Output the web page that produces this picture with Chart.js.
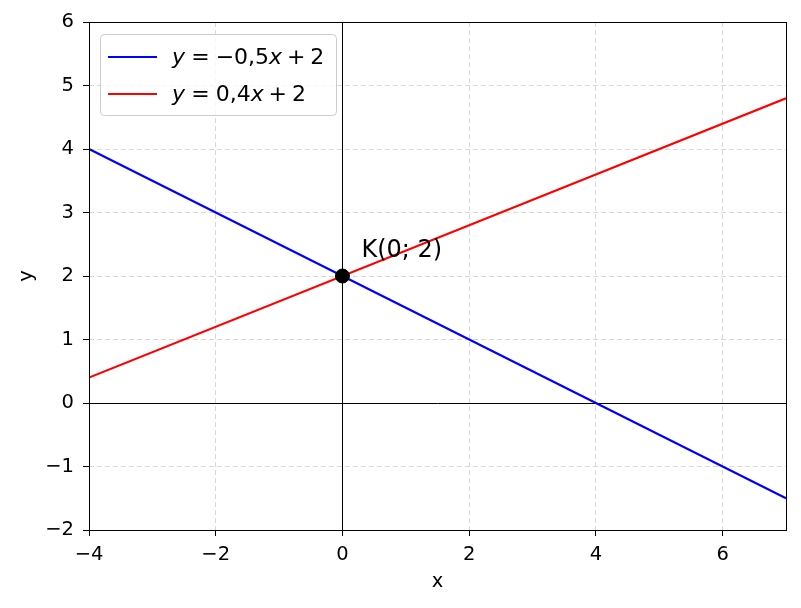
<!DOCTYPE html>
<html>
<head>
<meta charset="utf-8">
<script src="https://cdn.jsdelivr.net/npm/chart.js@4.4.0/dist/chart.umd.min.js"></script>
<style>
  html, body { margin: 0; padding: 0; background: #fff; }
  #wrap { width: 801px; height: 608px; }
</style>
</head>
<body>
<div id="wrap"><canvas id="chart" width="801" height="608"></canvas></div>
<script>
// data
const xEnds = [-4, 7];
const blueY = [4, -1.5];
const redY = [0.4, 4.8];
const pointX = [0];
const pointY = [2];
const pointLabel = 'K(0; 2)';
const labelAt = [0.3, 2.3];
const xTicks = [-4, -2, 0, 2, 4, 6];
const yTicks = [-2, -1, 0, 1, 2, 3, 4, 5, 6];
// legend text: [text, italic, space after (em)]
const legendParts = [
  [['y', true, 0.278], ['=', false, 0.278], ['\u22120,5', false, 0], ['x', true, 0.222], ['+', false, 0.222], ['2', false, 0]],
  [['y', true, 0.278], ['=', false, 0.278], ['0,4', false, 0], ['x', true, 0.222], ['+', false, 0.222], ['2', false, 0]]
];
const legendColors = ['#0000ff', '#ff0000'];

const FONT = 'DejaVu Sans';
const TICK_SIZE = 19.5;
const LEGEND_SIZE = 22;

function fmt(v) {
  return v < 0 ? '\u2212' + Math.abs(v) : String(v);
}

// axes at zero, frame, legend and label
const extras = {
  id: 'extras',
  beforeDatasetsDraw(chart) {
    const ctx = chart.ctx, a = chart.chartArea;
    const xs = chart.scales.x, ys = chart.scales.y;
    const x0 = Math.round(xs.getPixelForValue(0)) + 0.5;
    const y0 = Math.round(ys.getPixelForValue(0)) + 0.5;
    ctx.save();
    ctx.strokeStyle = '#000';
    ctx.lineWidth = 1;
    ctx.beginPath();
    ctx.moveTo(x0, a.top); ctx.lineTo(x0, a.bottom);
    ctx.moveTo(a.left, y0); ctx.lineTo(a.right, y0);
    ctx.stroke();
    ctx.restore();
  },
  afterDraw(chart) {
    const ctx = chart.ctx, a = chart.chartArea;
    const xs = chart.scales.x, ys = chart.scales.y;
    ctx.save();
    // frame
    ctx.strokeStyle = '#000';
    ctx.lineWidth = 1;
    ctx.strokeRect(Math.round(a.left) + 0.5, Math.round(a.top) + 0.5,
      Math.round(a.right - a.left), Math.round(a.bottom - a.top));

    // point label
    ctx.fillStyle = '#000';
    ctx.font = '24px "' + FONT + '"';
    ctx.textBaseline = 'alphabetic';
    ctx.textAlign = 'left';
    ctx.fillText(pointLabel, xs.getPixelForValue(labelAt[0]), ys.getPixelForValue(labelAt[1]));

    // legend
    const bx = a.left + 11, by = a.top + 12, bw = 236, bh = 81, r = 4;
    ctx.beginPath();
    ctx.roundRect(bx + 0.5, by + 0.5, bw, bh, r);
    ctx.fillStyle = 'rgba(255,255,255,0.8)';
    ctx.fill();
    ctx.strokeStyle = '#cccccc';
    ctx.lineWidth = 1;
    ctx.stroke();
    legendParts.forEach((parts, i) => {
      const cy = by + 23 + i * 37;
      ctx.strokeStyle = legendColors[i];
      ctx.lineWidth = 2.2;
      ctx.beginPath();
      ctx.moveTo(bx + 8, cy); ctx.lineTo(bx + 57, cy);
      ctx.stroke();
      let tx = bx + 72;
      ctx.fillStyle = '#000';
      ctx.textBaseline = 'middle';
      parts.forEach(([t, it, sp]) => {
        ctx.font = (it ? 'italic ' : '') + LEGEND_SIZE + 'px "' + FONT + '"';
        ctx.fillText(t, tx, cy + 1);
        tx += ctx.measureText(t).width + sp * LEGEND_SIZE;
      });
    });
    ctx.restore();
  }
};

const gridOpts = {
  color: '#d8d8d8',
  lineWidth: 1,
  drawTicks: true,
  tickLength: 6,
  tickColor: '#000',
  tickWidth: 1,
  tickBorderDash: []
};

new Chart(document.getElementById('chart'), {
  type: 'scatter',
  data: {
    datasets: [
      {
        data: xEnds.map((x, i) => ({x: x, y: blueY[i]})),
        showLine: true,
        borderColor: '#0000ff',
        borderWidth: 2.2,
        pointRadius: 0,
        order: 2
      },
      {
        data: xEnds.map((x, i) => ({x: x, y: redY[i]})),
        showLine: true,
        borderColor: '#ff0000',
        borderWidth: 2.2,
        pointRadius: 0,
        order: 1
      },
      {
        data: pointX.map((x, i) => ({x: x, y: pointY[i]})),
        showLine: false,
        backgroundColor: '#000',
        borderColor: '#000',
        pointRadius: 7,
        order: 0
      }
    ]
  },
  options: {
    responsive: false,
    animation: false,
    devicePixelRatio: 1,
    layout: { padding: { top: 22, right: 15, left: 0, bottom: 0 } },
    plugins: { legend: { display: false }, tooltip: { enabled: false } },
    scales: {
      x: {
        type: 'linear',
        min: -4,
        max: 7,
        afterBuildTicks: s => { s.ticks = xTicks.map(v => ({value: v})); },
        afterFit: s => { s.height = 78; },
        grid: gridOpts,
        border: { display: false, dash: [5, 3] },
        ticks: {
          color: '#000',
          padding: 7,
          maxRotation: 0,
          font: { family: FONT, size: TICK_SIZE },
          callback: v => fmt(v)
        },
        title: {
          display: true,
          text: 'x',
          color: '#000',
          font: { family: FONT, size: TICK_SIZE },
          padding: { top: 0, bottom: 14 }
        }
      },
      y: {
        type: 'linear',
        min: -2,
        max: 6,
        afterBuildTicks: s => { s.ticks = yTicks.map(v => ({value: v})); },
        afterFit: s => { s.width = 89; },
        grid: gridOpts,
        border: { display: false, dash: [5, 3] },
        ticks: {
          color: '#000',
          padding: 9,
          font: { family: FONT, size: TICK_SIZE },
          callback: v => fmt(v)
        },
        title: {
          display: true,
          text: 'y',
          color: '#000',
          font: { family: FONT, size: TICK_SIZE },
          padding: { top: 15, bottom: 0 }
        }
      }
    }
  },
  plugins: [extras]
});
</script>
</body>
</html>
